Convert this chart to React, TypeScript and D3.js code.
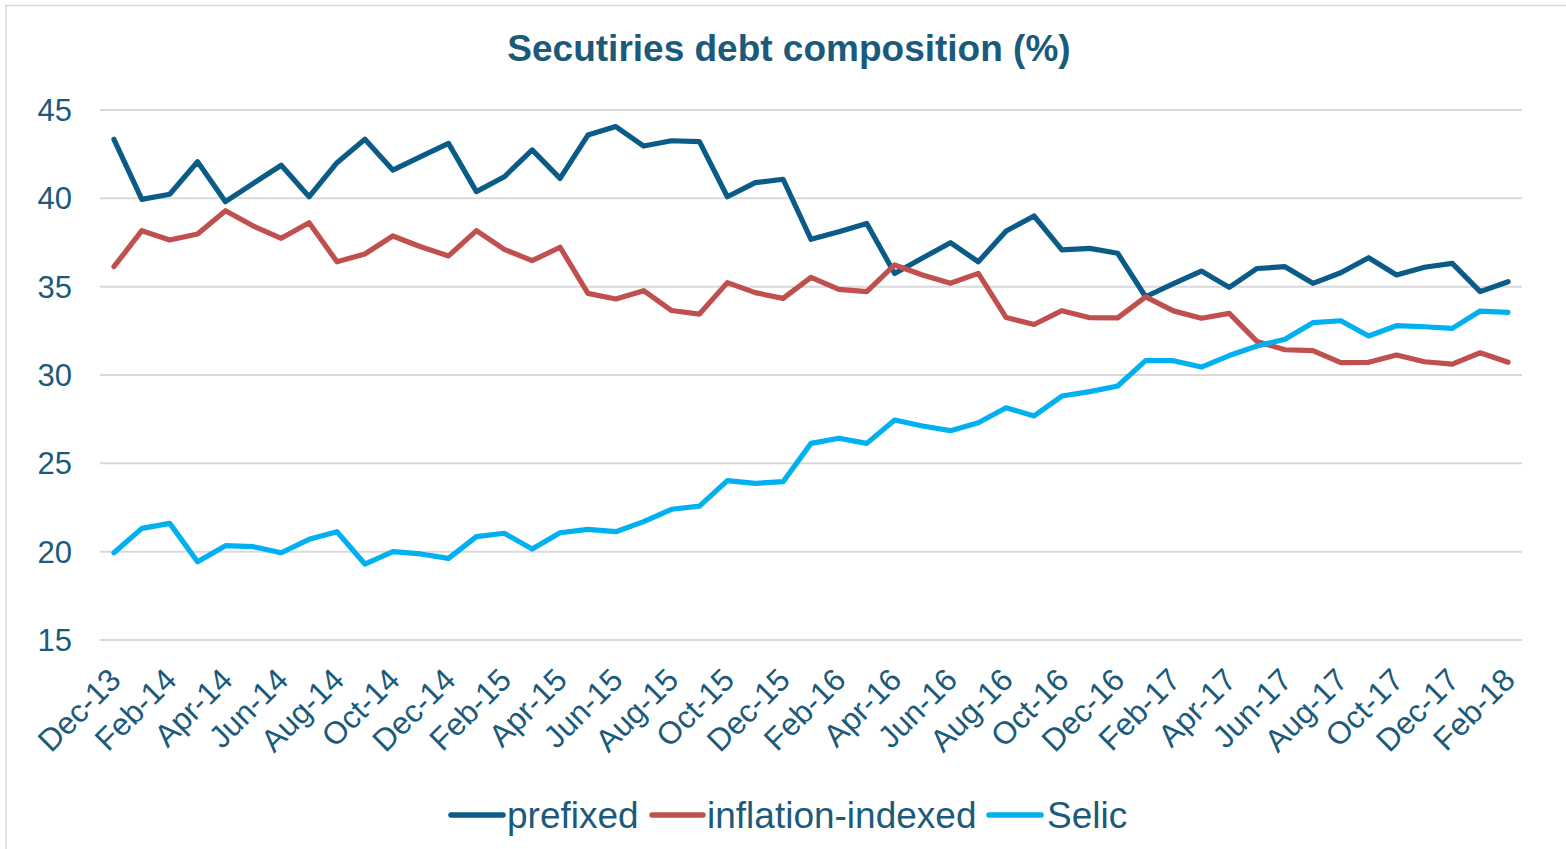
import React from "react";
import * as d3 from "d3";

const categories = [
  "Dec-13","Jan-14","Feb-14","Mar-14","Apr-14","May-14","Jun-14","Jul-14","Aug-14","Sep-14","Oct-14","Nov-14",
  "Dec-14","Jan-15","Feb-15","Mar-15","Apr-15","May-15","Jun-15","Jul-15","Aug-15","Sep-15","Oct-15","Nov-15",
  "Dec-15","Jan-16","Feb-16","Mar-16","Apr-16","May-16","Jun-16","Jul-16","Aug-16","Sep-16","Oct-16","Nov-16",
  "Dec-16","Jan-17","Feb-17","Mar-17","Apr-17","May-17","Jun-17","Jul-17","Aug-17","Sep-17","Oct-17","Nov-17",
  "Dec-17","Jan-18","Feb-18",
];

const prefixed = [
  43.34, 39.94, 40.23, 42.07, 39.81, 40.85, 41.87, 40.09, 42.02, 43.34, 41.6, 42.36,
  43.11, 40.38, 41.22, 42.74, 41.13, 43.58, 44.06, 42.96, 43.26, 43.21, 40.09, 40.89,
  41.08, 37.68, 38.11, 38.58, 35.75, 36.62, 37.49, 36.41, 38.15, 39.0, 37.08, 37.17,
  36.89, 34.43, 35.17, 35.88, 34.96, 36.03, 36.13, 35.19, 35.79, 36.64, 35.66, 36.1,
  36.32, 34.72, 35.28,
];

const inflationIndexed = [
  36.13, 38.17, 37.64, 37.98, 39.3, 38.43, 37.74, 38.62, 36.41, 36.85, 37.87, 37.26,
  36.74, 38.17, 37.11, 36.47, 37.23, 34.62, 34.3, 34.77, 33.65, 33.45, 35.23, 34.66,
  34.34, 35.53, 34.85, 34.72, 36.23, 35.66, 35.19, 35.75, 33.25, 32.86, 33.64, 33.24,
  33.23, 34.42, 33.63, 33.21, 33.49, 31.89, 31.43, 31.38, 30.7, 30.72, 31.13, 30.75,
  30.62, 31.26, 30.72,
];

const selic = [
  19.94, 21.32, 21.6, 19.43, 20.34, 20.28, 19.94, 20.7, 21.13, 19.3, 20.0, 19.87,
  19.62, 20.85, 21.04, 20.15, 21.07, 21.26, 21.13, 21.7, 22.4, 22.58, 24.02, 23.87,
  23.96, 26.13, 26.42, 26.13, 27.45, 27.11, 26.85, 27.3, 28.15, 27.68, 28.81, 29.06,
  29.38, 30.81, 30.81, 30.45, 31.1, 31.64, 32.02, 32.96, 33.07, 32.21, 32.79, 32.73,
  32.64, 33.62, 33.55,
];

const yTicks = [15, 20, 25, 30, 35, 40, 45];
const xTickLabels = categories.filter((_, i) => i % 2 === 0);

const seriesNames = ["prefixed", "inflation-indexed", "Selic"];
const seriesColors = ["#0B5B87", "#C0504D", "#00B0F0"];

const W = 1566;
const H = 849;
const textColor = "#1B5A7B";
const font = "'Liberation Sans', Arial, sans-serif";

export default function App() {
  const x = d3.scaleBand<string>().domain(categories).range([100, 1522]);
  const y = d3.scaleLinear().domain([15, 45]).range([640, 110]);
  const cx = (c: string) => (x(c) as number) + x.bandwidth() / 2;

  const seriesData = [prefixed, inflationIndexed, selic];
  const line = d3
    .line<number>()
    .x((_, i) => cx(categories[i]))
    .y((v) => y(v));

  const legendItems = [
    { name: seriesNames[0], color: seriesColors[0], x0: 451, x1: 503, tx: 507 },
    { name: seriesNames[1], color: seriesColors[1], x0: 652, x1: 703, tx: 707 },
    { name: seriesNames[2], color: seriesColors[2], x0: 989, x1: 1041, tx: 1047 },
  ];

  return (
    <svg
      width={W}
      height={H}
      style={{ position: "absolute", left: 0, top: 0, background: "#fff" }}
      fontFamily={font}
    >
      <rect x={0} y={0} width={W} height={H} fill="#fff" />
      <rect x={6} y={5.5} width={W + 20} height={H + 20} fill="none" stroke="#D9D9D9" strokeWidth={1.5} />
      <text x={789} y={61} textAnchor="middle" fontSize={37} fontWeight="bold" fill={textColor}>
        Secutiries debt composition (%)
      </text>
      {yTicks.map((t) => (
        <g key={t}>
          <line x1={100} x2={1522} y1={y(t)} y2={y(t)} stroke="#D9D9D9" strokeWidth={2} />
          <text x={72} y={y(t)} dy="0.35em" textAnchor="end" fontSize={31} fill={textColor}>
            {t}
          </text>
        </g>
      ))}
      {xTickLabels.map((c) => (
        <text
          key={c}
          transform={`translate(${cx(c) + 1},${674}) rotate(-45)`}
          textAnchor="end"
          dy="0.35em"
          fontSize={31.5}
          fill={textColor}
        >
          {c}
        </text>
      ))}
      {seriesData.map((d, k) => (
        <path
          key={k}
          d={line(d) || ""}
          fill="none"
          stroke={seriesColors[k]}
          strokeWidth={5.2}
          strokeLinejoin="round"
          strokeLinecap="round"
        />
      ))}
      {legendItems.map((it) => (
        <g key={it.name}>
          <line x1={it.x0} x2={it.x1} y1={815} y2={815} stroke={it.color} strokeWidth={5.5} strokeLinecap="round" />
          <text x={it.tx} y={815} dy="0.35em" fontSize={37} fill={textColor}>
            {it.name}
          </text>
        </g>
      ))}
    </svg>
  );
}
